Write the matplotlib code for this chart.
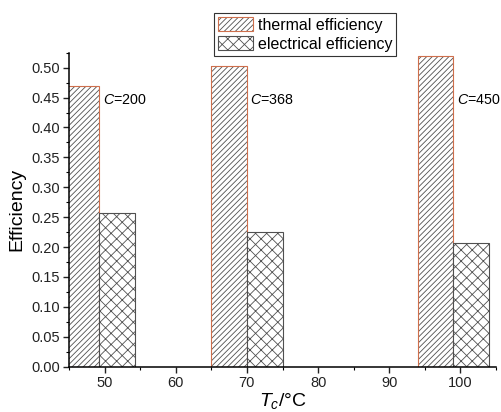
import numpy as np
import matplotlib.pyplot as plt
from matplotlib.patches import Patch

plt.rcParams['font.family'] = ['Liberation Sans', 'DejaVu Sans']
plt.rcParams['hatch.linewidth'] = 0.6
plt.rcParams['mathtext.fontset'] = 'custom'
plt.rcParams['mathtext.it'] = 'Liberation Sans:italic'
plt.rcParams['mathtext.rm'] = 'Liberation Sans'

# collector temperature and concentration ratio of each case
temps = [49.25, 70, 99]
conc_labels = ['200', '368', '450']
thermal_eff = [0.470, 0.503, 0.519]
electrical_eff = [0.257, 0.225, 0.207]

edge_orange = '#cf6f4c'
hatch_grey = '#505050'
width = 5

fig = plt.figure(figsize=(5.02, 4.12), dpi=100)
ax = fig.add_axes([0.1375, 0.11, 0.8505, 0.762])

# thermal bars: grey hatch underneath, orange outline on top
ax.bar(temps, thermal_eff, width=-width, align='edge', color='white',
       edgecolor=hatch_grey, hatch='//////', linewidth=0)
ax.bar(temps, thermal_eff, width=-width, align='edge', fill=False,
       edgecolor=edge_orange, linewidth=0.8)
ax.bar(temps, electrical_eff, width=width, align='edge', color='white',
       edgecolor=hatch_grey, hatch='xxx', linewidth=0.8)

for t, c in zip(temps, conc_labels):
    ax.text(t + 0.5, 0.4465, '$C$=' + c, fontsize=10.3, va='center', ha='left')

ax.set_xlim(45, 105)
ax.set_ylim(0, 0.525)
ax.set_xticks([50, 60, 70, 80, 90, 100])
ax.set_xticks(np.arange(45, 106, 5), minor=True)
ax.set_yticks(np.arange(0, 0.51, 0.05))
ax.set_yticks(np.arange(0, 0.526, 0.025), minor=True)
ax.yaxis.set_major_formatter(plt.FormatStrFormatter('%.2f'))
ax.tick_params(direction='out', length=4, width=1.0, labelsize=10.5,
               pad=2.5, colors='#222222')
ax.tick_params(which='minor', direction='out', length=2.5, width=0.8)
for side in ['top', 'right']:
    ax.spines[side].set_visible(False)
for side in ['left', 'bottom']:
    ax.spines[side].set_linewidth(1.1)

ax.set_xlabel('$T_c$/°C', fontsize=14, labelpad=1)
ax.set_ylabel('Efficiency', fontsize=14, labelpad=4)

th_handle = (Patch(facecolor='white', edgecolor=hatch_grey, hatch='//////', linewidth=0),
             Patch(fill=False, edgecolor=edge_orange, linewidth=0.8))
el_handle = Patch(facecolor='white', edgecolor=hatch_grey, hatch='xxx', linewidth=0.8)
leg = fig.legend([th_handle, el_handle], ['thermal efficiency', 'electrical efficiency'],
                 loc='upper left', bbox_to_anchor=(0.426, 0.968), fontsize=11.5,
                 frameon=True, fancybox=False, edgecolor='#333333', framealpha=1,
                 handlelength=2.2, handleheight=1.0, handletextpad=0.3,
                 borderpad=0.25, labelspacing=0.2, borderaxespad=0)
leg.get_frame().set_linewidth(0.8)

fig.savefig('out.png', dpi=100)
